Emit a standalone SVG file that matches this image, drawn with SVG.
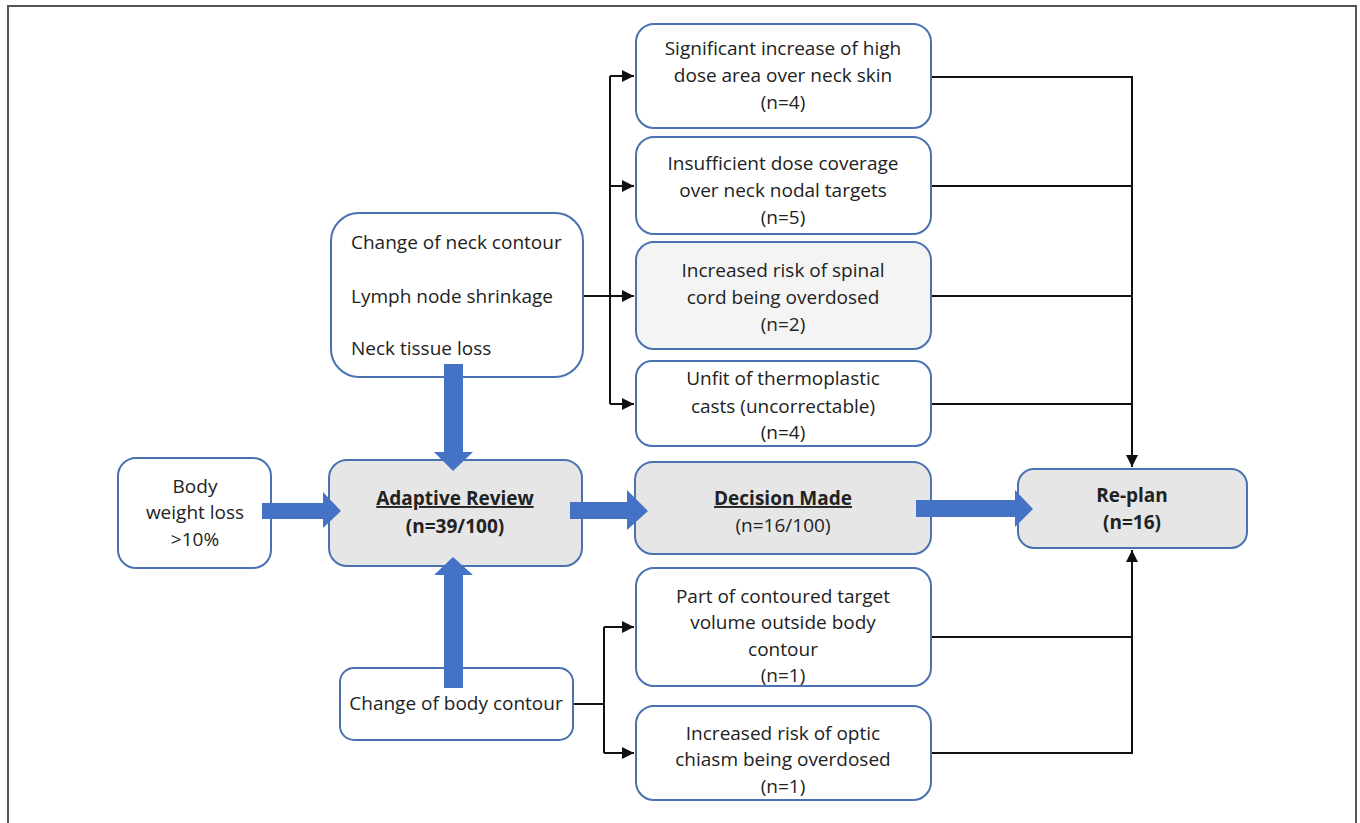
<svg xmlns="http://www.w3.org/2000/svg" width="1360" height="823" viewBox="0 0 1360 823">
<defs>
<style>
.box{fill:#ffffff;stroke:#4a72b0;stroke-width:2}
.gbox{fill:#e6e6e6;stroke:#4a72b0;stroke-width:2}
text{font-family:"Open Sans","Liberation Sans",sans-serif;font-size:19px;fill:#222}
.c{text-anchor:middle}
.b{font-weight:bold}
.u{text-decoration:underline}
.conn{fill:none;stroke:#111;stroke-width:2}
.blk{fill:#4472c4}
</style>
<marker id="ah" viewBox="0 0 10 10" refX="10" refY="5" markerWidth="6" markerHeight="6" orient="auto" markerUnits="strokeWidth">
<path d="M0,0 L10,5 L0,10 z" fill="#111"/>
</marker>
</defs>
<rect width="1360" height="823" fill="#ffffff"/>
<path d="M8,823 V6 H1356 V823" fill="none" stroke="#555" stroke-width="2"/>

<g id="connectors">
<path class="conn" d="M583,296 H634" marker-end="url(#ah)"/>
<path class="conn" d="M610,76 V404"/>
<path class="conn" d="M610,76 H634" marker-end="url(#ah)"/>
<path class="conn" d="M610,186 H634" marker-end="url(#ah)"/>
<path class="conn" d="M610,404 H634" marker-end="url(#ah)"/>
<path class="conn" d="M931,77 H1132 V467" marker-end="url(#ah)"/>
<path class="conn" d="M931,186 H1132"/>
<path class="conn" d="M931,296 H1132"/>
<path class="conn" d="M931,404 H1132"/>
<path class="conn" d="M931,637 H1132"/>
<path class="conn" d="M931,753 H1132 V550" marker-end="url(#ah)"/>
<path class="conn" d="M573,704 H604"/>
<path class="conn" d="M604,627 V753"/>
<path class="conn" d="M604,627 H634" marker-end="url(#ah)"/>
<path class="conn" d="M604,753 H634" marker-end="url(#ah)"/>
</g>

<g id="n-skin"><rect class="box" x="636" y="24" width="295" height="104" rx="18"/>
<text class="c" x="783" y="55">Significant increase of high</text>
<text class="c" x="783" y="82">dose area over neck skin</text>
<text class="c" x="783" y="109">(n=4)</text></g>

<g id="n-coverage"><rect class="box" x="636" y="137" width="295" height="97" rx="18"/>
<text class="c" x="783" y="170">Insufficient dose coverage</text>
<text class="c" x="783" y="197">over neck nodal targets</text>
<text class="c" x="783" y="224">(n=5)</text></g>

<g id="n-spinal"><rect class="box" x="636" y="242" width="295" height="107" rx="18" style="fill:#f4f4f4"/>
<text class="c" x="783" y="277">Increased risk of spinal</text>
<text class="c" x="783" y="304">cord being overdosed</text>
<text class="c" x="783" y="331">(n=2)</text></g>

<g id="n-casts"><rect class="box" x="636" y="361" width="295" height="85" rx="16"/>
<text class="c" x="783" y="385">Unfit of thermoplastic</text>
<text class="c" x="783" y="413">casts (uncorrectable)</text>
<text class="c" x="783" y="439">(n=4)</text></g>

<g id="n-neck"><rect class="box" x="331" y="213" width="252" height="164" rx="28"/>
<text x="351" y="249">Change of neck contour</text>
<text x="351" y="303">Lymph node shrinkage</text>
<text x="351" y="355">Neck tissue loss</text></g>

<g id="n-weight"><rect class="box" x="118" y="458" width="153" height="110" rx="18"/>
<text class="c" x="195" y="493">Body</text>
<text class="c" x="195" y="519">weight loss</text>
<text class="c" x="195" y="546">&gt;10%</text></g>

<g id="n-adaptive"><rect class="gbox" x="329" y="460" width="253" height="106" rx="18"/>
<text class="c b u" x="455" y="505">Adaptive Review</text>
<text class="c b" x="455" y="533">(n=39/100)</text></g>

<g id="n-decision"><rect class="gbox" x="635" y="462" width="296" height="92" rx="18"/>
<text class="c b u" x="783" y="505">Decision Made</text>
<text class="c" x="783" y="532">(n=16/100)</text></g>

<g id="n-replan"><rect class="gbox" x="1018" y="469" width="229" height="79" rx="16"/>
<text class="c b" x="1132" y="502">Re-plan</text>
<text class="c b" x="1132" y="529">(n=16)</text></g>

<g id="n-body"><rect class="box" x="340" y="668" width="233" height="72" rx="14"/>
<text class="c" x="456" y="710">Change of body contour</text></g>

<g id="n-outside"><rect class="box" x="636" y="568" width="295" height="118" rx="18"/>
<text class="c" x="783" y="603">Part of contoured target</text>
<text class="c" x="783" y="629">volume outside body</text>
<text class="c" x="783" y="656">contour</text>
<text class="c" x="783" y="682">(n=1)</text></g>

<g id="n-chiasm"><rect class="box" x="636" y="706" width="295" height="94" rx="18"/>
<text class="c" x="783" y="740">Increased risk of optic</text>
<text class="c" x="783" y="766">chiasm being overdosed</text>
<text class="c" x="783" y="793">(n=1)</text></g>

<g id="block-arrows">
<polygon class="blk" points="262,503 323,503 323,492 341,511 323,528 323,519 262,519"/>
<polygon class="blk" points="444,364 463,364 463,452 473,452 453,471 434,452 444,452"/>
<polygon class="blk" points="444,688 463,688 463,575 473,575 453,557 434,575 444,575"/>
<polygon class="blk" points="570,502 627,502 627,490 648,511 627,530 627,519 570,519"/>
<polygon class="blk" points="916,500 1015,500 1015,490 1033,509 1015,527 1015,517 916,517"/>
</g>
</svg>
